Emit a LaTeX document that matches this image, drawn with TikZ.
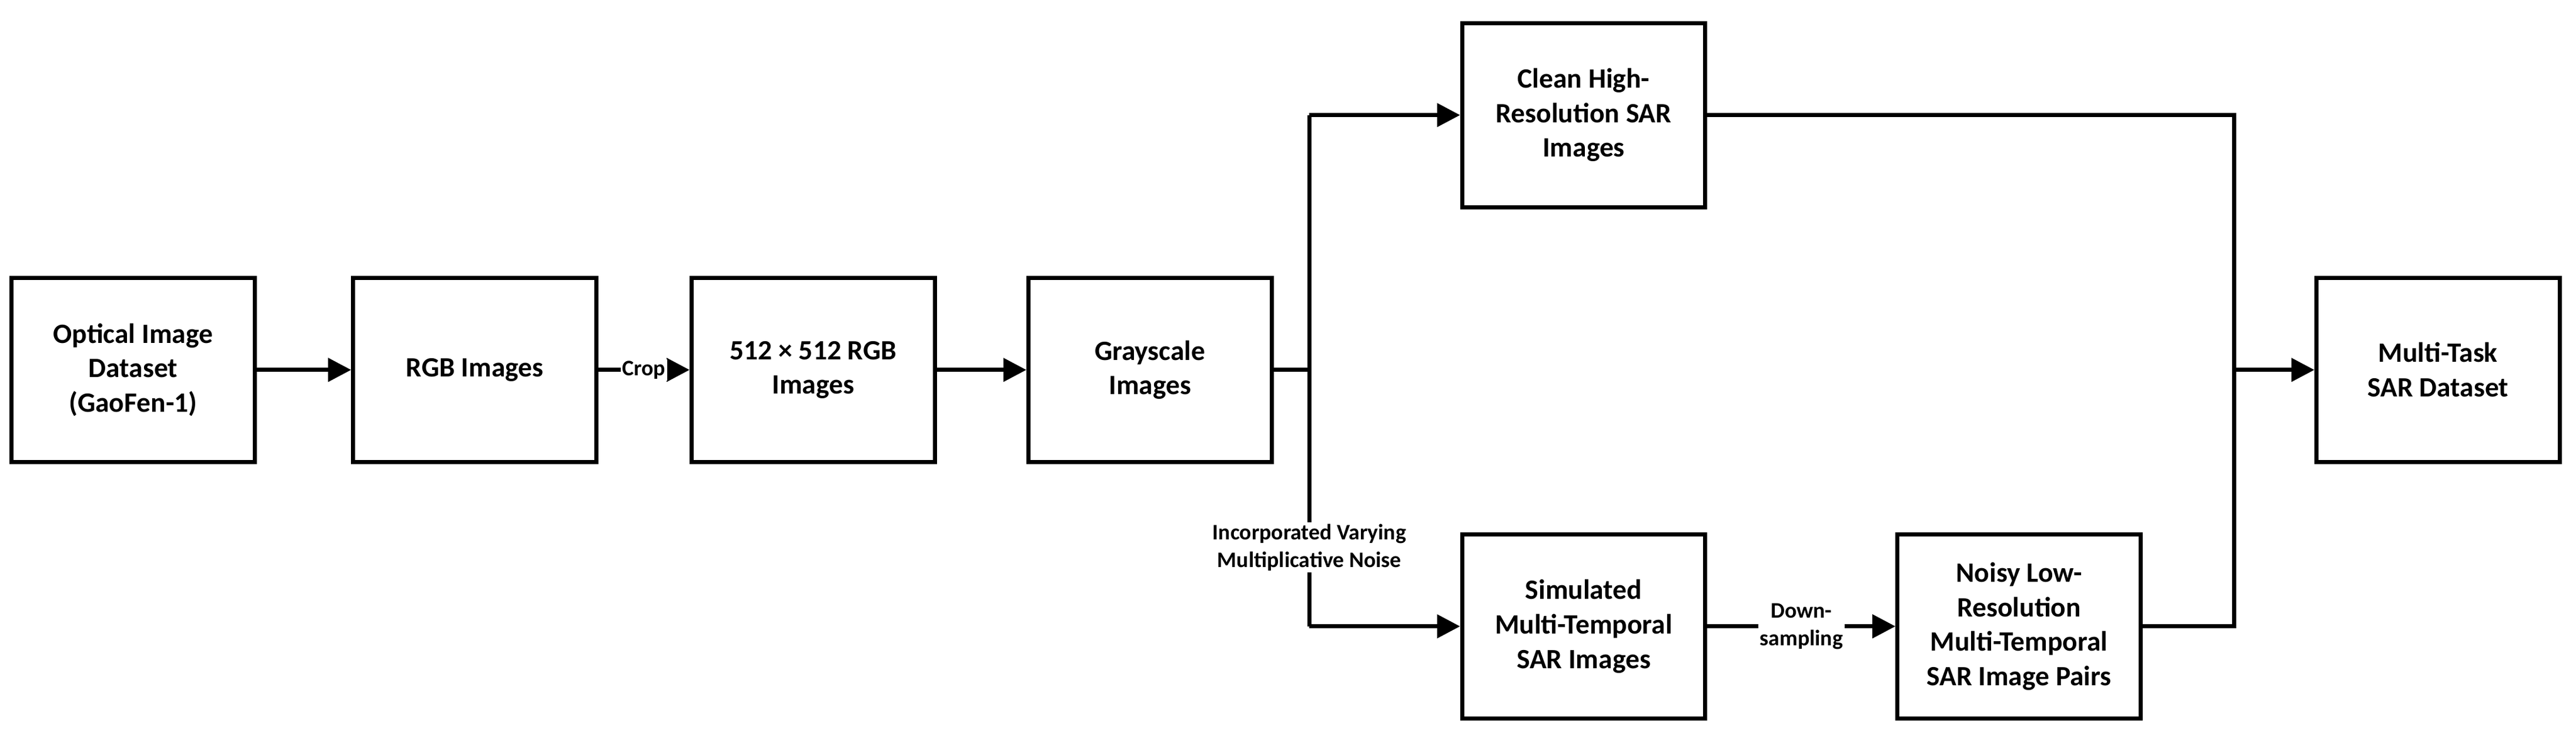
\documentclass[tikz,border=0pt]{standalone}
\usepackage{fontspec}
\setmainfont{Carlito}
\usetikzlibrary{arrows.meta}
\begin{document}
\begin{tikzpicture}[x=1pt,y=-1pt,
 box/.style={draw,line width=2.5pt,minimum width=148pt,minimum height=112pt,align=center,font=\fontsize{17}{21}\selectfont\bfseries,inner sep=2pt},
 arr/.style={line width=2.5pt,-{Triangle[length=14pt,width=14pt]}},
 ln/.style={line width=2.5pt},
 lab/.style={fill=white,align=center,font=\fontsize{13.5}{17}\selectfont\bfseries,inner sep=1pt}]
\useasboundingbox (0,0) rectangle (1568,450);
\node[box] (a) at (81,225) {Optical Image\\Dataset\\(GaoFen-1)};
\node[box] (b) at (289,225) {RGB Images};
\node[box] (c) at (495,225) {512 × 512 RGB\\Images};
\node[box] (d) at (700,225) {Grayscale\\Images};
\node[box] (e) at (964,70) {Clean High-\\Resolution SAR\\Images};
\node[box] (f) at (964,381) {Simulated\\Multi-Temporal\\SAR Images};
\node[box] (g) at (1229,381) {Noisy Low-\\Resolution\\Multi-Temporal\\SAR Image Pairs};
\node[box] (h) at (1484,225) {Multi-Task\\SAR Dataset};
\coordinate (j) at (797,225);
\coordinate (jt) at (797,70);
\coordinate (jb) at (797,381);
\coordinate (k) at (1360,225);
\coordinate (kt) at (1360,70);
\coordinate (kb) at (1360,381);
\draw[arr] (a) -- (b);
\draw[arr] (b) -- node[lab]{Crop} (c);
\draw[arr] (c) -- (d);
\draw[ln] (d) -- (j);
\draw[ln] (jt) -- (jb);
\draw[arr] (jt) -- (e);
\draw[arr] (jb) -- (f);
\node[lab] (n) at (797,333) {Incorporated Varying\\Multiplicative Noise};
\draw[arr] (f) -- node[lab]{Down-\\sampling} (g);
\draw[ln] (e) -- (kt) -- (kb) -- (g);
\draw[arr] (k) -- (h);
\end{tikzpicture}
\end{document}
